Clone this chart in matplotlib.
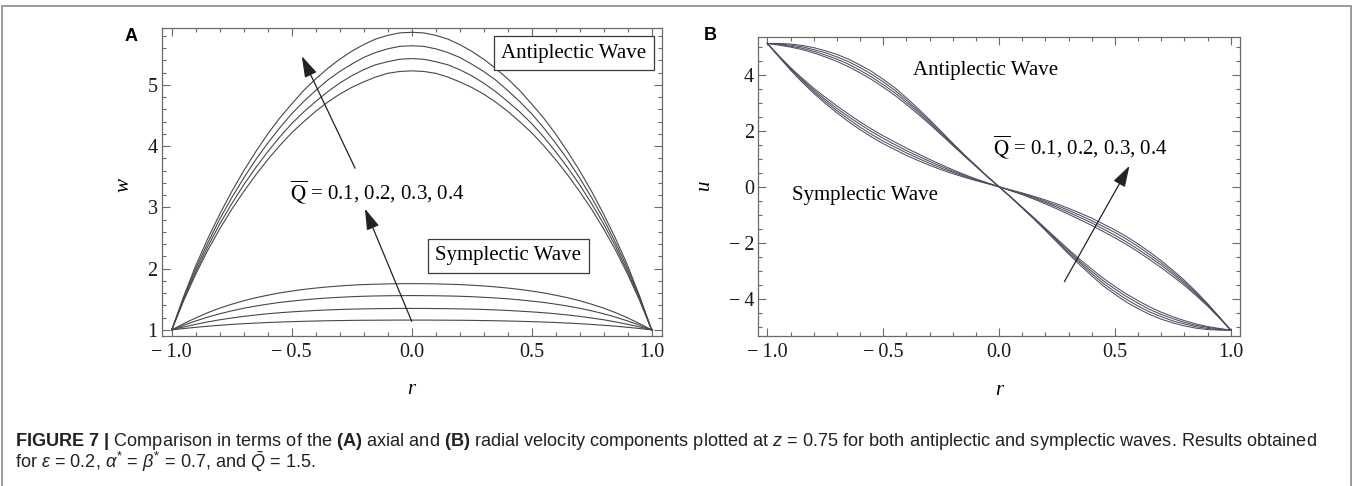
#!/usr/bin/env python
# coding: utf-8

'''
Figure 7: axial (A) and radial (B) velocity at z=0.75 for
antiplectic and symplectic waves, Qbar = 0.1 .. 0.4

Curves were read off the published figure for r >= 0 only;
w is even in r and u is odd in r, so the other half is mirrored.
'''

import numpy as np
import matplotlib
matplotlib.use('Agg')
import matplotlib.pyplot as plt
from matplotlib.ticker import MultipleLocator, FixedLocator, FixedFormatter
from matplotlib.patches import Rectangle

r_half = [0.00, 0.05, 0.10, 0.15, 0.20, 0.25, 0.30, 0.35, 0.40, 0.45, 0.50,
          0.55, 0.60, 0.65, 0.70, 0.75, 0.80, 0.85, 0.90, 0.95, 1.00]

qbar = [0.1, 0.2, 0.3, 0.4]

# panel A, axial velocity w (r >= 0)
w_anti_01 = [5.23, 5.22, 5.19, 5.13, 5.05, 4.96, 4.85, 4.72, 4.57, 4.40, 4.22, 4.01, 3.78, 3.53, 3.26, 2.97, 2.65, 2.30, 1.91, 1.48, 1.00]
w_anti_02 = [5.43, 5.42, 5.38, 5.33, 5.25, 5.15, 5.03, 4.89, 4.73, 4.56, 4.37, 4.15, 3.91, 3.65, 3.37, 3.06, 2.73, 2.36, 1.95, 1.51, 1.00]
w_anti_03 = [5.64, 5.63, 5.59, 5.53, 5.45, 5.34, 5.22, 5.08, 4.91, 4.73, 4.53, 4.30, 4.05, 3.78, 3.48, 3.16, 2.81, 2.42, 2.00, 1.53, 1.00]
w_anti_04 = [5.86, 5.85, 5.81, 5.75, 5.66, 5.55, 5.42, 5.27, 5.10, 4.91, 4.69, 4.46, 4.20, 3.91, 3.60, 3.26, 2.89, 2.49, 2.05, 1.55, 1.00]

w_sym_01 = [1.160, 1.160, 1.159, 1.158, 1.157, 1.155, 1.152, 1.149, 1.145, 1.140, 1.134, 1.128, 1.120, 1.111, 1.101, 1.089, 1.075, 1.060, 1.042, 1.022, 1.000]
w_sym_02 = [1.350, 1.350, 1.348, 1.346, 1.343, 1.339, 1.333, 1.326, 1.317, 1.306, 1.294, 1.280, 1.263, 1.243, 1.221, 1.194, 1.165, 1.130, 1.091, 1.047, 1.000]
w_sym_03 = [1.560, 1.559, 1.557, 1.554, 1.549, 1.542, 1.532, 1.521, 1.507, 1.490, 1.470, 1.448, 1.420, 1.389, 1.353, 1.311, 1.263, 1.208, 1.146, 1.076, 1.000]
w_sym_04 = [1.755, 1.754, 1.751, 1.746, 1.740, 1.730, 1.717, 1.702, 1.683, 1.661, 1.634, 1.604, 1.566, 1.525, 1.476, 1.419, 1.355, 1.281, 1.196, 1.102, 1.000]

# panel B, radial velocity u (r >= 0)
u_anti_01 = [0.00, -0.37, -0.76, -1.15, -1.56, -1.98, -2.40, -2.80, -3.18, -3.54, -3.84, -4.12, -4.35, -4.56, -4.73, -4.86, -4.97, -5.05, -5.10, -5.12, -5.12]
u_anti_02 = [0.00, -0.36, -0.75, -1.13, -1.53, -1.94, -2.35, -2.73, -3.10, -3.45, -3.75, -4.02, -4.26, -4.47, -4.64, -4.79, -4.90, -5.00, -5.06, -5.10, -5.12]
u_anti_03 = [0.00, -0.36, -0.74, -1.11, -1.51, -1.90, -2.29, -2.67, -3.02, -3.36, -3.65, -3.92, -4.16, -4.38, -4.56, -4.71, -4.84, -4.95, -5.02, -5.08, -5.12]
u_anti_04 = [0.00, -0.36, -0.73, -1.10, -1.48, -1.86, -2.24, -2.60, -2.94, -3.27, -3.56, -3.83, -4.07, -4.29, -4.48, -4.64, -4.78, -4.90, -4.99, -5.06, -5.12]

u_sym_01 = [0.00, -0.14, -0.28, -0.44, -0.61, -0.79, -0.98, -1.18, -1.38, -1.60, -1.82, -2.06, -2.32, -2.60, -2.89, -3.20, -3.52, -3.88, -4.26, -4.68, -5.12]
u_sym_02 = [0.00, -0.13, -0.26, -0.41, -0.56, -0.73, -0.91, -1.10, -1.29, -1.51, -1.73, -1.97, -2.23, -2.51, -2.80, -3.12, -3.46, -3.83, -4.23, -4.66, -5.12]
u_sym_03 = [0.00, -0.12, -0.24, -0.37, -0.52, -0.67, -0.84, -1.02, -1.21, -1.42, -1.63, -1.87, -2.13, -2.42, -2.72, -3.05, -3.40, -3.79, -4.20, -4.65, -5.12]
u_sym_04 = [0.00, -0.11, -0.22, -0.34, -0.47, -0.61, -0.77, -0.94, -1.12, -1.33, -1.54, -1.78, -2.04, -2.33, -2.64, -2.98, -3.34, -3.74, -4.17, -4.64, -5.12]

# tick labels
r_ticks = [-1.0, -0.5, 0.0, 0.5, 1.0]
r_ticklabels = ['\u2212\u20091.0', '\u2212\u20090.5', '0.0', '0.5', '1.0']
w_ticks = [1, 2, 3, 4, 5]
w_ticklabels = ['1', '2', '3', '4', '5']
u_ticks = [-4, -2, 0, 2, 4]
u_ticklabels = ['\u2212\u20094', '\u2212\u20092', '0', '2', '4']

qlabel = r'$\overline{\mathrm{Q}}$ = ' + ', '.join(str(q) for q in qbar)

caption1 = (r'$\mathbf{FIGURE\ 7\ |}$ Comparison in terms of the $\mathbf{(A)}$ axial and '
            r'$\mathbf{(B)}$ radial velocity components plotted at $z$ = 0.75 for both '
            r'antiplectic and symplectic waves. Results obtained')
caption2 = r'for $\epsilon$ = 0.2, $\alpha^{*}$ = $\beta^{*}$ = 0.7, and $\bar{Q}$ = 1.5.'

W, H = 1357., 486.

plt.rcParams['font.family'] = 'Liberation Serif'
plt.rcParams['mathtext.fontset'] = 'stix'
plt.rcParams['mathtext.rm'] = 'Liberation Sans'
plt.rcParams['mathtext.it'] = 'Liberation Sans:italic'
plt.rcParams['mathtext.bf'] = 'Liberation Sans:bold'

line_a = '#474747'
line_b = '#4e4e62'
frame = '#6a6a6a'


def even(v):
    return v[:0:-1] + v


def odd(v):
    return [-x for x in v[:0:-1]] + v


r = odd(r_half)


def style_axes(ax, xt, xl, yt, yl, ymin_step):
    ax.xaxis.set_major_locator(FixedLocator(xt))
    ax.xaxis.set_major_formatter(FixedFormatter(xl))
    ax.yaxis.set_major_locator(FixedLocator(yt))
    ax.yaxis.set_major_formatter(FixedFormatter(yl))
    ax.xaxis.set_minor_locator(MultipleLocator(0.1))
    ax.yaxis.set_minor_locator(MultipleLocator(ymin_step))
    ax.tick_params(which='both', direction='in', top=True, right=True, color=frame, width=0.8)
    ax.tick_params(which='major', length=5.5, labelsize=14.5, labelcolor='#1a1a1a')
    ax.tick_params(which='minor', length=3)
    ax.tick_params(axis='x', pad=5)
    ax.tick_params(axis='y', pad=3)
    for s in ax.spines.values():
        s.set_color(frame)
        s.set_linewidth(0.9)


def arrow(ax, tail, head):
    ax.annotate('', xy=head, xytext=tail,
                arrowprops=dict(arrowstyle='-|>,head_length=0.65,head_width=0.2',
                                mutation_scale=20, color='#222222', lw=0.9,
                                shrinkA=0, shrinkB=0))


fig = plt.figure(figsize=(W/100, H/100), dpi=100)

# panel A
axA = fig.add_axes([161.7/W, 1-336/H, 500/W, 308/H])
for w in [w_anti_01, w_anti_02, w_anti_03, w_anti_04, w_sym_01, w_sym_02, w_sym_03, w_sym_04]:
    axA.plot(r, even(w), color=line_a, lw=0.8)
axA.set_xlim(-1.042, 1.042)
axA.set_ylim(0.90, 5.93)
style_axes(axA, r_ticks, r_ticklabels, w_ticks, w_ticklabels, 0.2)
box = dict(boxstyle='square,pad=0.35', fc='white', ec='#3a3a3a', lw=0.9)
axA.text(0.676, 5.52, 'Antiplectic Wave', fontsize=15, ha='center', va='center', bbox=box)
axA.text(0.403, 2.21, 'Symplectic Wave', fontsize=15, ha='center', va='center', bbox=box)
axA.text(-0.507, 3.25, qlabel, fontsize=15, ha='left', va='center')
arrow(axA, (-0.236, 3.64), (-0.458, 5.47))
arrow(axA, (0.0, 1.14), (-0.195, 2.98))
axA.text(-0.076, 0.49, 'w', transform=axA.transAxes, fontsize=15, style='italic',
         rotation=90, ha='center', va='center')
axA.text(0.5, -0.175, 'r', transform=axA.transAxes, fontsize=15, style='italic',
         ha='center', va='center')

# panel B
axB = fig.add_axes([758.3/W, 1-336/H, 481.7/W, 299/H])
for u in [u_anti_01, u_anti_02, u_anti_03, u_anti_04, u_sym_01, u_sym_02, u_sym_03, u_sym_04]:
    axB.plot(r, odd(u), color=line_b, lw=0.75)
axB.set_xlim(-1.039, 1.040)
axB.set_ylim(-5.33, 5.35)
style_axes(axB, r_ticks, r_ticklabels, u_ticks, u_ticklabels, 0.5)
axB.text(-0.06, 4.14, 'Antiplectic Wave', fontsize=15, ha='center', va='center')
axB.text(-0.577, -0.32, 'Symplectic Wave', fontsize=15, ha='center', va='center')
axB.text(-0.027, 1.43, qlabel, fontsize=15, ha='left', va='center')
arrow(axB, (0.282, -3.39), (0.563, 0.75))
axB.text(-0.111, 0.505, 'u', transform=axB.transAxes, fontsize=15, style='italic',
         rotation=90, ha='center', va='center')
axB.text(0.5, -0.181, 'r', transform=axB.transAxes, fontsize=15, style='italic',
         ha='center', va='center')

# panel letters
fig.text(130.6/W, 1-36.7/H, 'A', family='Liberation Sans', weight='bold', fontsize=13,
         ha='center', va='center')
fig.text(710.7/W, 1-36.0/H, 'B', family='Liberation Sans', weight='bold', fontsize=13,
         ha='center', va='center')

# caption
fig.text(15/W, 1-441/H, caption1, family='Liberation Sans', fontsize=13.1,
         math_fontfamily='custom', ha='left', va='center', color='#222222')
fig.text(15/W, 1-462/H, caption2, family='Liberation Sans', fontsize=13.1,
         math_fontfamily='custom', ha='left', va='center', color='#222222')

# outer frame of the figure
fig.patches.append(Rectangle((2/W, -0.05), 1349/W, 1.05-6/H, transform=fig.transFigure,
                             fill=False, ec='#8a8a8a', lw=1.2))

plt.savefig('out.png', dpi=100)
